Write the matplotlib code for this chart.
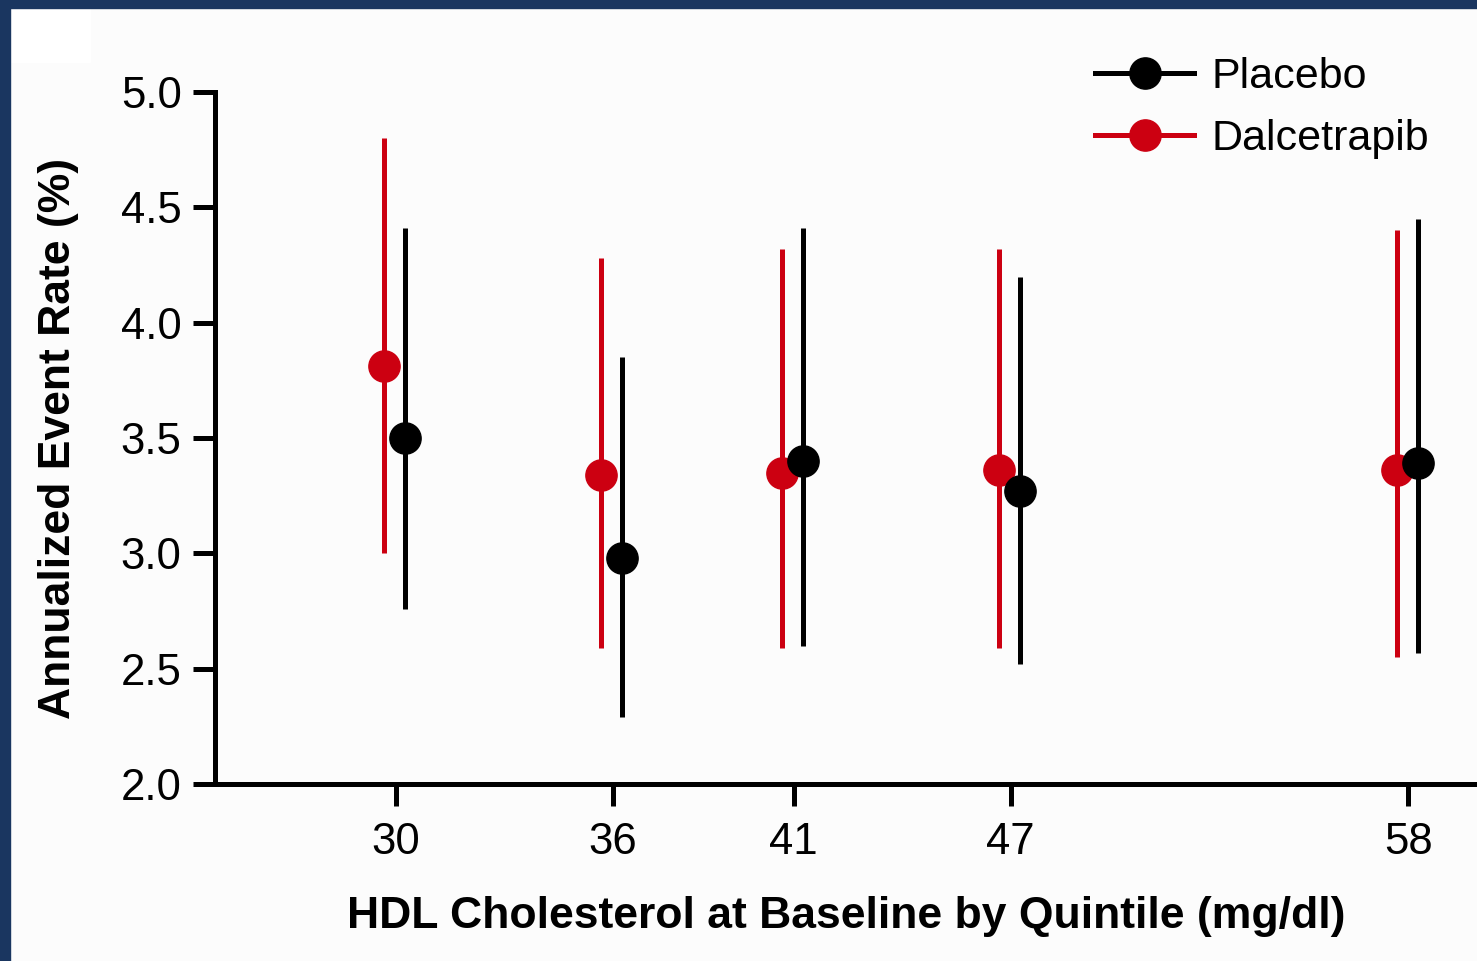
import matplotlib
matplotlib.use("Agg")
import matplotlib.pyplot as plt
from matplotlib.lines import Line2D
from matplotlib.patches import Rectangle

plt.rcParams["font.family"] = ["Liberation Sans", "DejaVu Sans"]

# HDL quintile cut points (mg/dl)
quintiles = [30, 36, 41, 47, 58]

# annualized event rate (%) with 95% CI
placebo_rate = [3.50, 2.98, 3.40, 3.27, 3.39]
placebo_low = [2.76, 2.29, 2.60, 2.52, 2.57]
placebo_high = [4.41, 3.85, 4.41, 4.20, 4.45]

dalcetrapib_rate = [3.81, 3.34, 3.35, 3.36, 3.36]
dalcetrapib_low = [3.00, 2.59, 2.59, 2.59, 2.55]
dalcetrapib_high = [4.80, 4.28, 4.32, 4.32, 4.40]

red = "#cc0011"
navy = "#1a3660"
bg = "#fcfcfc"

fig = plt.figure(figsize=(14.77, 9.61), dpi=100, facecolor=bg)
ax = fig.add_axes([215 / 1477, 1 - 784 / 961, 1 - 215 / 1477, (784 - 92) / 961])
ax.set_facecolor(bg)

x_d = [q - 0.32 for q in quintiles]
x_p = [q + 0.26 for q in quintiles]

d_err = [[r - lo for r, lo in zip(dalcetrapib_rate, dalcetrapib_low)],
         [hi - r for r, hi in zip(dalcetrapib_rate, dalcetrapib_high)]]
p_err = [[r - lo for r, lo in zip(placebo_rate, placebo_low)],
         [hi - r for r, hi in zip(placebo_rate, placebo_high)]]

ax.errorbar(x_d, dalcetrapib_rate, yerr=d_err, fmt="o", color=red, ms=22.5,
            elinewidth=3.6, capsize=0, zorder=3)
ax.errorbar(x_p, placebo_rate, yerr=p_err, fmt="o", color="black", ms=22.5,
            elinewidth=3.6, capsize=0, zorder=4)

ax.set_xlim(25, 59.9)
ax.set_ylim(2.0, 5.0)
ax.set_xticks(quintiles)
ax.set_yticks([2.0, 2.5, 3.0, 3.5, 4.0, 4.5, 5.0])
ax.set_yticklabels(["2.0", "2.5", "3.0", "3.5", "4.0", "4.5", "5.0"])

for s in ["top", "right"]:
    ax.spines[s].set_visible(False)
for s in ["left", "bottom"]:
    ax.spines[s].set_linewidth(3.6)

ax.tick_params(axis="both", direction="out", length=16, width=3.6,
               labelsize=31.5, color="black")
ax.tick_params(axis="y", pad=8)
ax.tick_params(axis="x", pad=11)

ax.set_xlabel("HDL Cholesterol at Baseline by Quintile (mg/dl)", fontsize=32,
              fontweight="bold", labelpad=24)
ax.set_ylabel("Annualized Event Rate (%)", fontsize=32, fontweight="bold",
              labelpad=30)

handles = [
    Line2D([], [], color="black", lw=3.6, marker="o", ms=22.5),
    Line2D([], [], color=red, lw=3.6, marker="o", ms=22.5),
]
fig.legend(handles, ["Placebo", "Dalcetrapib"], loc="upper left",
           bbox_to_anchor=(1065 / 1477, 1 - 27 / 961), frameon=False,
           fontsize=31, handlelength=2.3, handletextpad=0.4,
           labelspacing=0.5, borderpad=0.2)

# navy frame on top and left edges, white patch in corner
fig.patches.append(Rectangle((0, 1 - 8 / 961), 1, 8 / 961,
                             transform=fig.transFigure, color=navy, zorder=10))
fig.patches.append(Rectangle((0, 0), 10 / 1477, 1,
                             transform=fig.transFigure, color=navy, zorder=10))
fig.patches.append(Rectangle((10 / 1477, 1 - 62 / 961), 80 / 1477, 54 / 961,
                             transform=fig.transFigure, color="white", zorder=1))

fig.savefig("out.png", dpi=100, facecolor=bg)
